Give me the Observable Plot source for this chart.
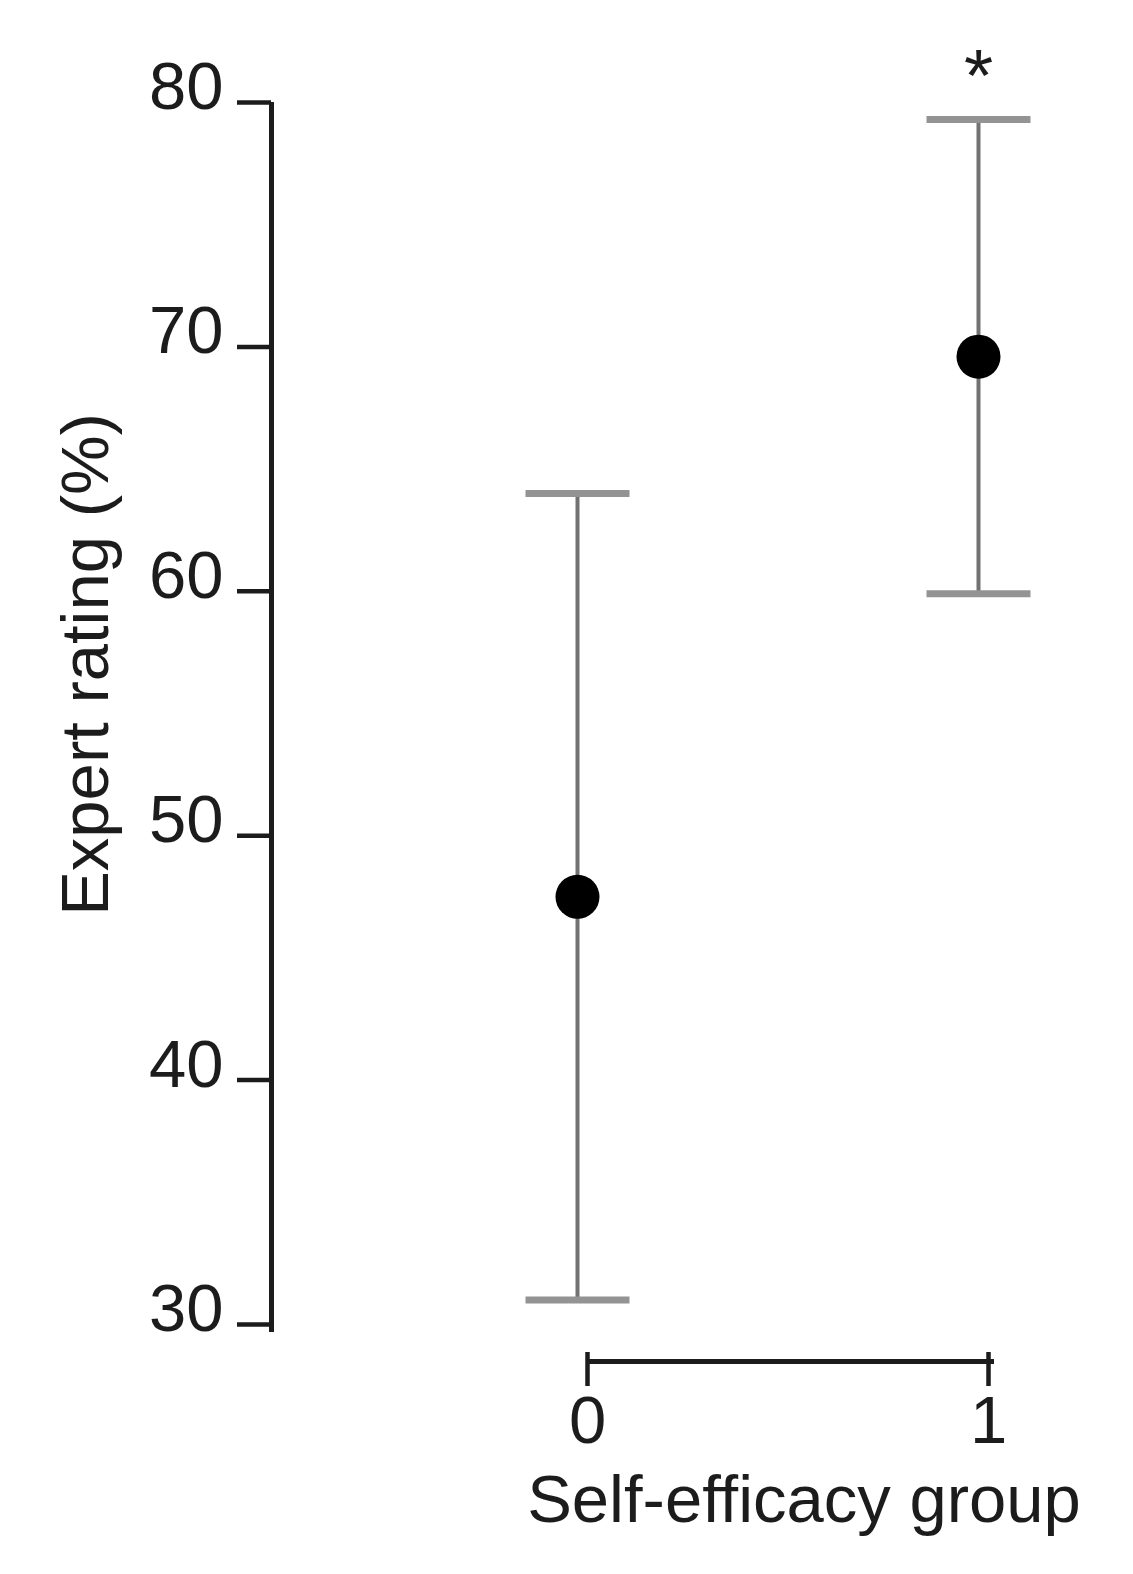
<!DOCTYPE html>
<html>
<head>
<meta charset="utf-8">
<script src="https://cdn.jsdelivr.net/npm/d3@7"></script>
<script src="https://cdn.jsdelivr.net/npm/@observablehq/plot@0.6"></script>
<style>
  html, body { margin: 0; padding: 0; background: #fff; }
  #chart svg { display: block; }
</style>
</head>
<body>
<div id="chart"></div>
<script>
// Data
const groups = [0, 1];
const means = [47.5, 69.6];
const lower = [31.0, 59.9];
const upper = [64.0, 79.3];
const significance = ["", "*"];
const yTicks = [30, 40, 50, 60, 70, 80];
const xTicks = [0, 1];
const yTitle = "Expert rating (%)";
const xTitle = "Self-efficacy group";

const data = groups.map((g, i) => ({group: g, mean: means[i], lo: lower[i], hi: upper[i], sig: significance[i]}));

const W = 1133, H = 1574;
const marginLeft = 271, marginRight = 53, marginTop = 102, marginBottom = 250;
// pixel positions of the two groups: 0 -> 577, 1 -> 978
const unit = 401;
const xMin = -(577 - marginLeft) / unit;
const xMax = 1 + ((W - marginRight) - 978) / unit;

const capSymbol = {
  draw(context, size) {
    const w = Math.sqrt(size / Math.PI);
    context.moveTo(-w, 0);
    context.lineTo(w, 0);
  }
};

const font = "'Liberation Sans', Arial, Helvetica, sans-serif";
const ink = "#1c1c1c";

const chart = Plot.plot({
  width: W,
  height: H,
  marginLeft, marginRight, marginTop, marginBottom,
  style: {fontFamily: font, fontSize: "67px", color: ink, background: "#fff"},
  x: {domain: [xMin, xMax], axis: null},
  y: {domain: [30, 80], axis: null},
  marks: [
    // y axis line + ticks + labels
    Plot.ruleX([xMin], {y1: 80, y2: 30, stroke: ink, strokeWidth: 5, insetBottom: -8}),
    Plot.axisY(yTicks, {anchor: "left", tickSize: 34, text: null, stroke: ink, strokeWidth: 4.5, label: null}),
    Plot.axisY(yTicks, {anchor: "left", tickSize: 0, tickPadding: 48, dy: -15, fontSize: 67, fill: ink, label: null}),
    Plot.text([yTitle], {frameAnchor: "left", rotate: -90, dx: -185, dy: -49, fontSize: 67, fill: ink, textAnchor: "middle"}),
    // x axis line + ticks + labels
    Plot.ruleY([30], {x1: 0, x2: 1, dy: 37, dx: 10, stroke: ink, strokeWidth: 5, insetRight: -6}),
    Plot.axisX(xTicks, {anchor: "bottom", tickSize: 34, tickPadding: 9, dy: 28, dx: 10, stroke: ink, strokeWidth: 4.5, fontSize: 67, fill: ink, label: null, tickFormat: d => String(d)}),
    Plot.text([xTitle], {frameAnchor: "bottom", dx: 128, dy: 197, fontSize: 67, fill: ink, textAnchor: "middle"}),
    // error bars
    Plot.ruleX(data, {x: "group", y1: "lo", y2: "hi", stroke: "#727272", strokeWidth: 4}),
    Plot.dot(data, {x: "group", y: "hi", symbol: capSymbol, r: 52, fill: "none", stroke: "#939393", strokeWidth: 7}),
    Plot.dot(data, {x: "group", y: "lo", symbol: capSymbol, r: 52, fill: "none", stroke: "#939393", strokeWidth: 7}),
    // means
    Plot.dot(data, {x: "group", y: "mean", r: 22, fill: "#000", stroke: "none"}),
    // significance marker
    Plot.text(data, {x: "group", y: "hi", text: "sig", fontSize: 75, dy: -43, fill: ink, textAnchor: "middle"})
  ]
});

document.getElementById("chart").appendChild(chart);
</script>
</body>
</html>
